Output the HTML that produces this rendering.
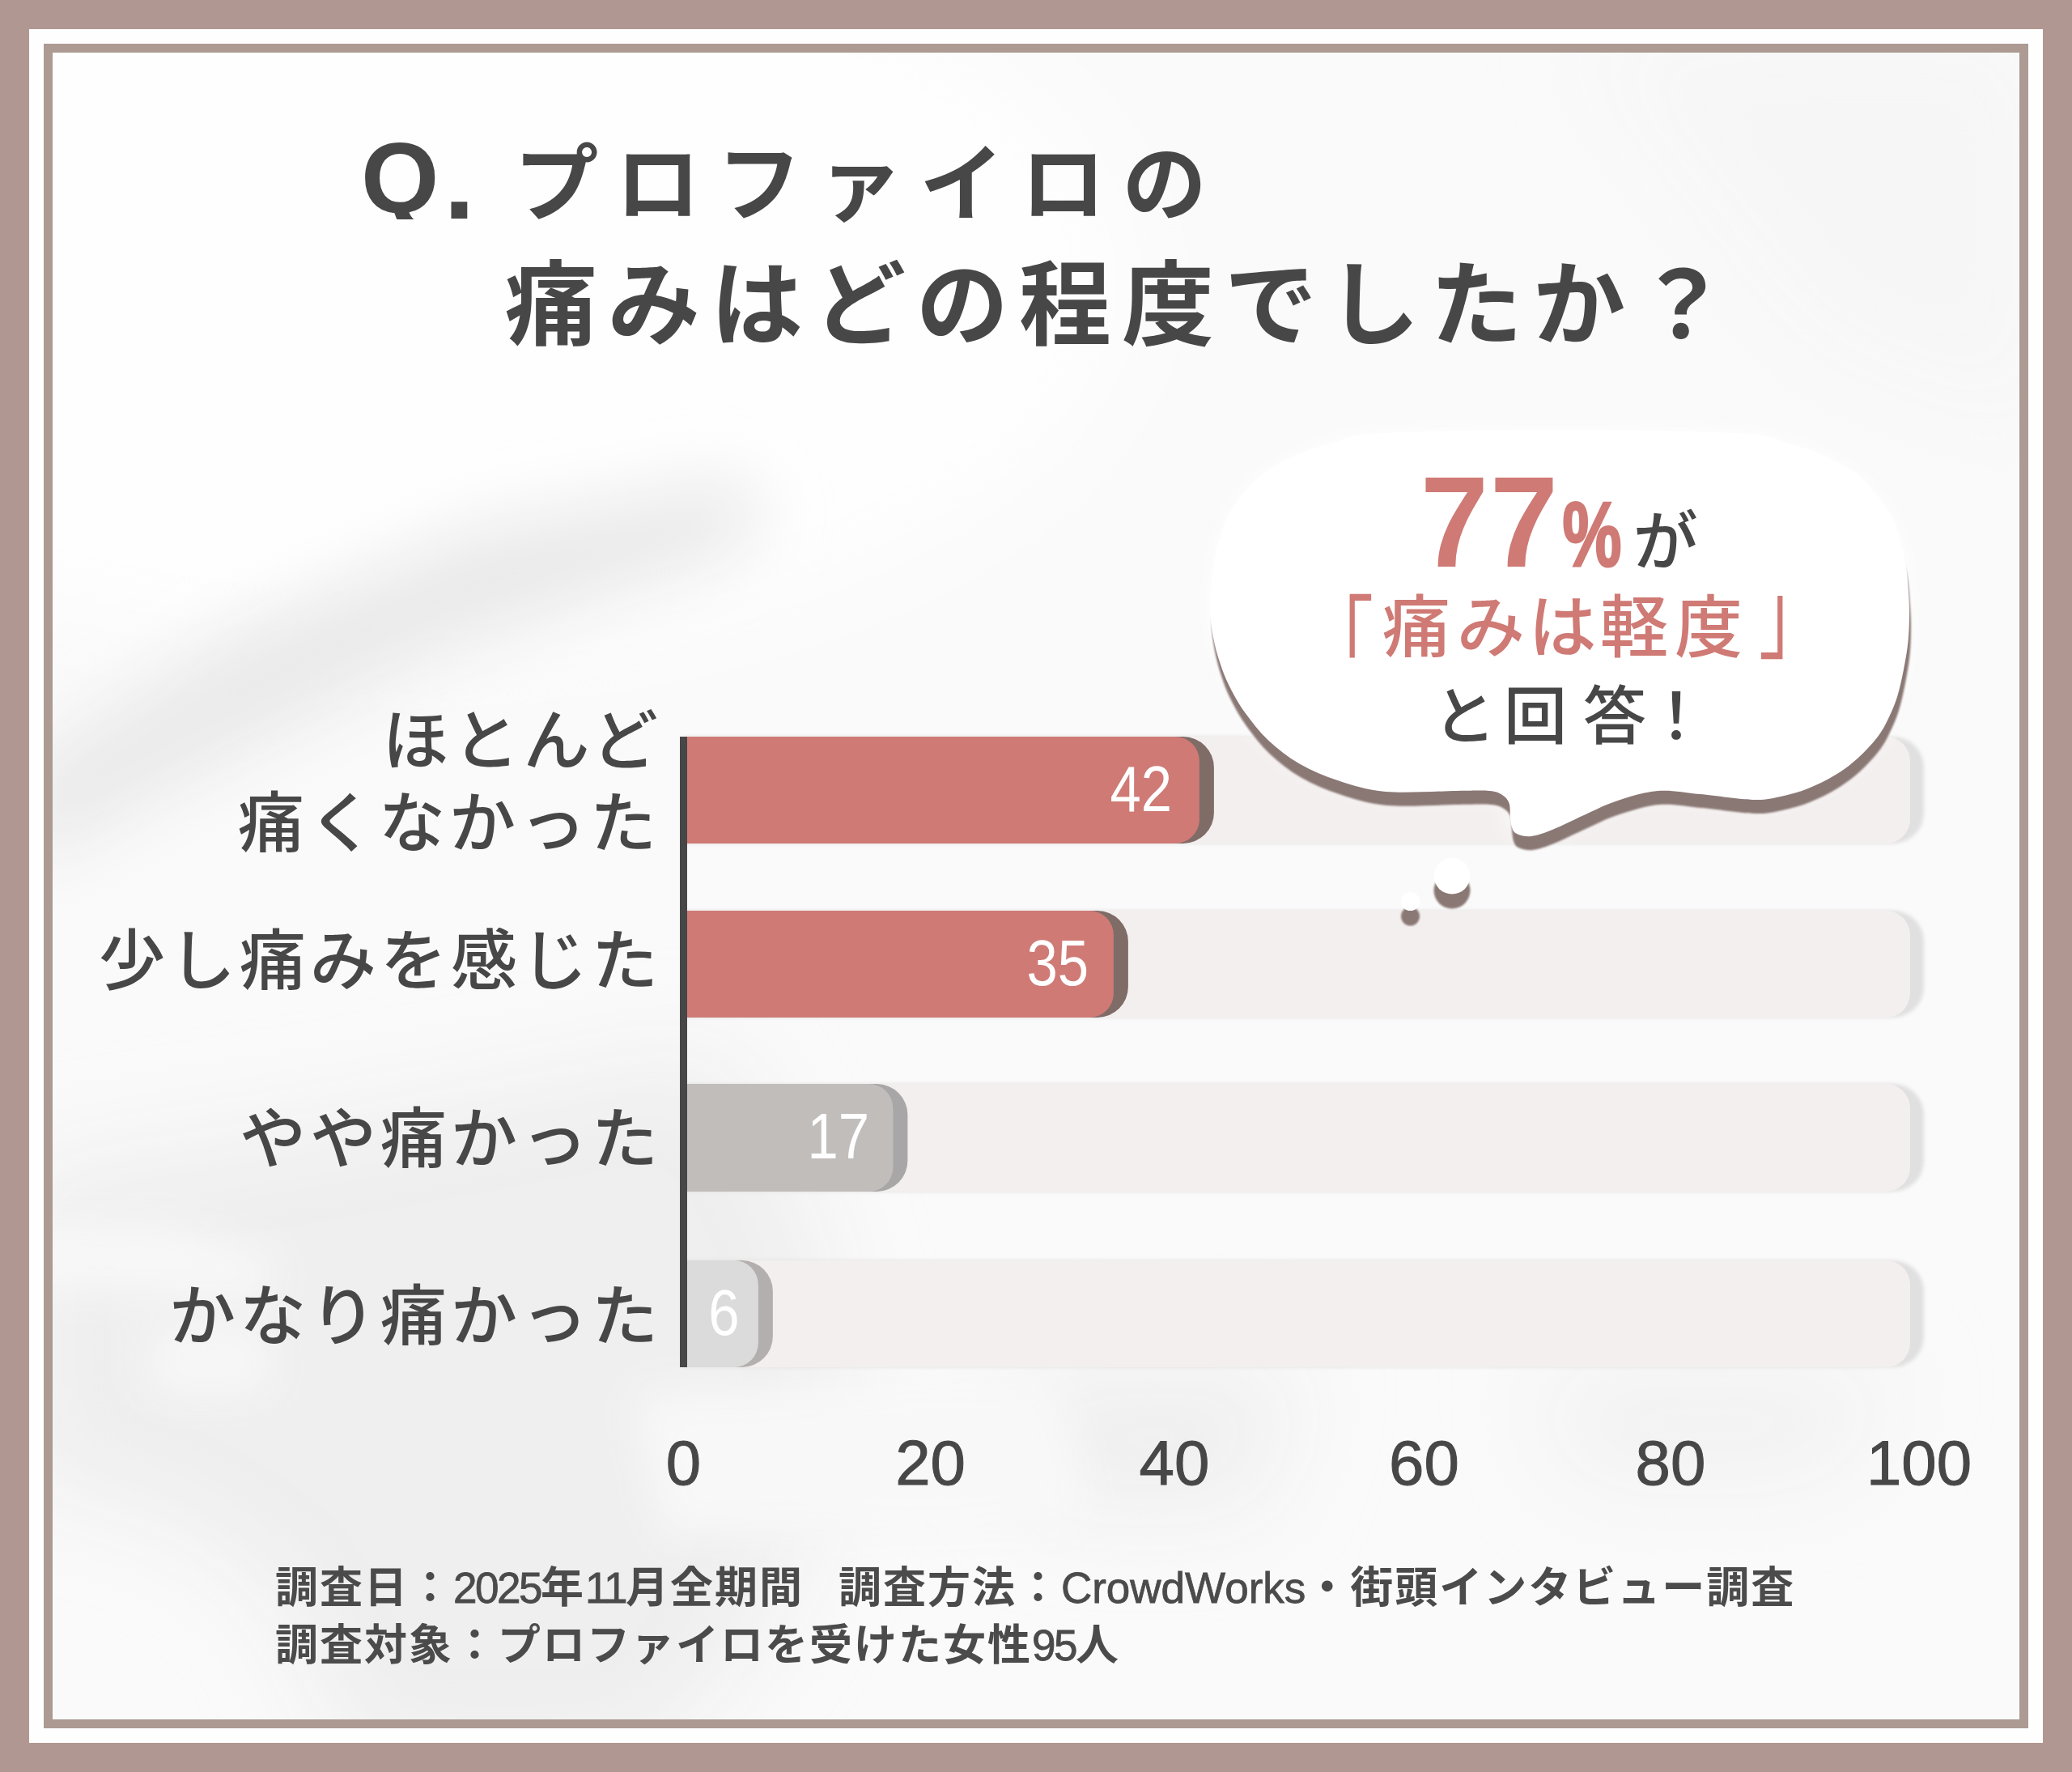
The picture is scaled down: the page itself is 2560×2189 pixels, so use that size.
<!DOCTYPE html>
<html lang="ja">
<head>
<meta charset="utf-8">
<style>
html,body{margin:0;padding:0;}
body{width:2560px;height:2189px;position:relative;overflow:hidden;background:#b19791;
  font-family:"Liberation Sans","Noto Sans CJK JP",sans-serif;}
.abs{position:absolute;}
#frame{left:36px;top:36px;width:2488px;height:2117px;background:#fefefe;}
#line{left:54px;top:54px;width:2430px;height:2059px;border:11px solid #ac9a93;}
#inner{left:65px;top:65px;width:2430px;height:2059px;background:#f8f8f8;overflow:hidden;}
.t{position:absolute;white-space:nowrap;color:#474747;font-weight:700;line-height:1;}
.jp{font-family:"Noto Sans CJK JP",sans-serif;}
.lab{font-family:"Liberation Sans","Noto Sans CJK JP",sans-serif;font-size:82px;font-weight:500;letter-spacing:5px;text-align:right;}
.val{font-size:80px;font-weight:400;color:#fff;transform:scaleX(0.86);transform-origin:right center;}
.axn{width:300px;text-align:center;font-size:78px;font-weight:400;-webkit-text-stroke:1px #474747;}
.foot{font-size:53px;color:#4b4b4b;letter-spacing:2px;}
.dg{letter-spacing:-2.5px;font-weight:400;-webkit-text-stroke:0.8px #4b4b4b;}
</style>
</head>
<body>
<div id="frame" class="abs"></div>
<div id="line" class="abs"></div>
<div id="inner" class="abs"></div>

<svg class="abs" style="left:65px;top:65px" width="2430" height="2059" viewBox="65 65 2430 2059">
  <defs>
    <filter id="bgb1" x="-50%" y="-50%" width="200%" height="200%"><feGaussianBlur stdDeviation="28"/></filter>
    <filter id="bgb2" x="-50%" y="-50%" width="200%" height="200%"><feGaussianBlur stdDeviation="60"/></filter>
    <filter id="bgb3" x="-50%" y="-50%" width="200%" height="200%"><feGaussianBlur stdDeviation="40"/></filter>
  </defs>
  <rect x="65" y="65" width="2430" height="2059" fill="#fafafa"/>
  <ellipse cx="500" cy="350" rx="900" ry="450" fill="#fefefe" filter="url(#bgb2)"/>
  <g filter="url(#bgb2)">
    <polygon points="20,1450 400,1390 700,1335 880,1300 1000,1500 1050,1750 950,2000 800,2180 440,2180 340,1960 200,1870 20,1830" fill="#ececec" opacity="0.85"/>
    <polygon points="1950,40 2520,40 2520,520 2250,420" fill="#f6f6f6"/>
    <polygon points="1250,1700 1600,1690 1550,1860 1280,1860" fill="#eeeeee"/>
    <polygon points="1900,1700 2350,1700 2250,1820 1950,1820" fill="#f0f0f0"/>
  </g>
  <polygon filter="url(#bgb3)" points="30,945 297,775 586,650 900,590 950,630 905,685 528,815 239,960 30,1075" fill="#eaeaea"/>
  <g filter="url(#bgb1)">
    <polygon points="20,1515 200,1510 345,1555 335,1605 200,1595 20,1590" fill="#f8f8f8"/>
    <polygon points="180,1640 330,1640 340,1720 190,1725" fill="#f7f7f7"/>
    <polygon points="780,1720 1300,1700 1350,1880 820,1900" fill="#f8f8f8"/>
  </g>
</svg>


<!-- title -->
<div class="t" style="left:446px;top:158px;font-size:124px;height:113px;overflow:hidden;">Q</div>
<div class="t" style="left:548px;top:152px;font-size:140px;">.</div>
<div class="t" style="left:635.5px;top:176.5px;font-size:104px;letter-spacing:21.2px;">プロファイロの</div>
<div class="t" style="left:624px;top:321px;font-size:114px;letter-spacing:13px;">痛みはどの程度でしたか？</div>

<svg class="abs" style="left:0;top:0" width="2560" height="2189" viewBox="0 0 2560 2189">
  <defs>
    <filter id="b2" x="-5%" y="-20%" width="110%" height="140%"><feGaussianBlur stdDeviation="2"/></filter>
    <filter id="glow" x="-20%" y="-20%" width="140%" height="140%"><feGaussianBlur stdDeviation="14"/></filter>
    <filter id="b1" x="-5%" y="-5%" width="110%" height="110%"><feGaussianBlur stdDeviation="1.2"/></filter>
  </defs>
  <path d="M845,910 H2339.0 A38,38 0 0 1 2377.0,948 V1004 A38,38 0 0 1 2339.0,1042 H845 Z" fill="#e0e0e0" filter="url(#b2)"/>
  <path d="M845,910 H2330.0 A30,30 0 0 1 2360.0,940 V1012 A30,30 0 0 1 2330.0,1042 H845 Z" fill="#f3efee"/>
  <path d="M845,910 H1461.88 A38,38 0 0 1 1499.88,948 V1004 A38,38 0 0 1 1461.88,1042 H845 Z" fill="#7f6c67"/>
  <path d="M845,910 H1451.88 A30,30 0 0 1 1481.88,940 V1012 A30,30 0 0 1 1451.88,1042 H845 Z" fill="#cf7a75"/>
  <path d="M845,1125 H2339.0 A38,38 0 0 1 2377.0,1163 V1219 A38,38 0 0 1 2339.0,1257 H845 Z" fill="#e0e0e0" filter="url(#b2)"/>
  <path d="M845,1125 H2330.0 A30,30 0 0 1 2360.0,1155 V1227 A30,30 0 0 1 2330.0,1257 H845 Z" fill="#f3efee"/>
  <path d="M845,1125 H1355.9 A38,38 0 0 1 1393.9,1163 V1219 A38,38 0 0 1 1355.9,1257 H845 Z" fill="#7f6c67"/>
  <path d="M845,1125 H1345.9 A30,30 0 0 1 1375.9,1155 V1227 A30,30 0 0 1 1345.9,1257 H845 Z" fill="#cf7a75"/>
  <path d="M845,1339 H2339.0 A38,38 0 0 1 2377.0,1377 V1434 A38,38 0 0 1 2339.0,1472 H845 Z" fill="#e0e0e0" filter="url(#b2)"/>
  <path d="M845,1339 H2330.0 A30,30 0 0 1 2360.0,1369 V1442 A30,30 0 0 1 2330.0,1472 H845 Z" fill="#f3efee"/>
  <path d="M845,1339 H1083.38 A38,38 0 0 1 1121.38,1377 V1434 A38,38 0 0 1 1083.38,1472 H845 Z" fill="#a8a6a6"/>
  <path d="M845,1339 H1073.38 A30,30 0 0 1 1103.38,1369 V1442 A30,30 0 0 1 1073.38,1472 H845 Z" fill="#c1bdbb"/>
  <path d="M845,1557 H2339.0 A38,38 0 0 1 2377.0,1595 V1651 A38,38 0 0 1 2339.0,1689 H845 Z" fill="#e0e0e0" filter="url(#b2)"/>
  <path d="M845,1557 H2330.0 A30,30 0 0 1 2360.0,1587 V1659 A30,30 0 0 1 2330.0,1689 H845 Z" fill="#f3efee"/>
  <path d="M845,1557 H916.84 A38,38 0 0 1 954.84,1595 V1651 A38,38 0 0 1 916.84,1689 H845 Z" fill="#b3afae"/>
  <path d="M845,1557 H906.84 A30,30 0 0 1 936.84,1587 V1659 A30,30 0 0 1 906.84,1689 H845 Z" fill="#dcdbdb"/>
  <rect x="840" y="910" width="9" height="779" fill="#474747"/>
  <!-- bubble -->
  <path d="M1927.0,531.0 C2001.3,531.0 2103.5,532.8 2150.0,535.5 C2196.5,538.2 2189.5,542.8 2206.0,547.0 C2222.5,551.2 2234.8,554.9 2249.0,561.0 C2263.2,567.1 2279.3,575.0 2291.0,583.5 C2302.7,592.0 2311.2,602.6 2319.0,612.0 C2326.8,621.4 2333.2,630.7 2338.0,640.0 C2342.8,649.3 2344.7,658.7 2347.5,668.0 C2350.3,677.3 2352.8,685.3 2354.6,696.0 C2356.3,706.7 2357.3,721.3 2358.0,732.0 C2358.7,742.7 2359.1,749.8 2359.0,760.0 C2358.9,770.2 2358.7,781.8 2357.5,793.0 C2356.3,804.2 2354.2,815.7 2352.0,827.0 C2349.8,838.3 2347.3,850.5 2344.0,861.0 C2340.7,871.5 2336.2,881.5 2332.0,890.0 C2327.8,898.5 2324.7,904.2 2318.5,912.0 C2312.3,919.8 2303.4,929.5 2295.0,937.0 C2286.6,944.5 2278.2,950.8 2268.0,957.0 C2257.8,963.2 2245.3,969.5 2234.0,974.0 C2222.7,978.5 2211.3,981.7 2200.0,984.0 C2188.7,986.3 2182.7,988.5 2166.0,988.0 C2149.3,987.5 2119.7,982.8 2100.0,981.0 C2080.3,979.2 2065.3,975.5 2048.0,977.0 C2030.7,978.5 2011.2,985.0 1996.0,990.0 C1980.8,995.0 1970.0,1001.2 1957.0,1007.0 C1944.0,1012.8 1928.8,1020.7 1918.0,1025.0 C1907.2,1029.3 1899.3,1032.2 1892.0,1033.0 C1884.7,1033.8 1878.0,1031.8 1874.0,1030.0 C1870.0,1028.2 1869.3,1025.5 1868.0,1022.0 C1866.7,1018.5 1866.6,1014.0 1866.0,1009.0 C1865.4,1004.0 1866.2,996.5 1864.5,992.0 C1862.8,987.5 1860.1,984.5 1856.0,982.0 C1851.9,979.5 1849.3,977.8 1840.0,977.0 C1830.7,976.2 1821.3,976.8 1800.0,977.0 C1778.7,977.2 1736.3,980.1 1712.0,978.0 C1687.7,975.9 1671.8,970.4 1654.0,964.6 C1636.2,958.8 1620.0,951.8 1605.5,943.4 C1591.0,935.0 1578.2,925.0 1567.0,914.4 C1555.8,903.8 1546.1,891.2 1538.0,880.0 C1529.9,868.8 1523.8,857.3 1518.6,847.0 C1513.4,836.7 1510.2,827.7 1507.0,818.0 C1503.8,808.3 1501.2,798.7 1499.3,789.0 C1497.4,779.3 1496.0,769.5 1495.4,760.0 C1494.9,750.5 1495.3,742.7 1496.0,732.0 C1496.7,721.3 1497.7,706.7 1499.4,696.0 C1501.2,685.3 1503.7,677.3 1506.5,668.0 C1509.3,658.7 1511.2,649.3 1516.0,640.0 C1520.8,630.7 1527.2,621.4 1535.0,612.0 C1542.8,602.6 1551.3,592.0 1563.0,583.5 C1574.7,575.0 1590.8,567.1 1605.0,561.0 C1619.2,554.9 1631.5,551.2 1648.0,547.0 C1664.5,542.8 1657.5,538.2 1704.0,535.5 C1750.5,532.8 1852.7,531.0 1927.0,531.0Z" fill="#ffffff" filter="url(#glow)" opacity="0.9"/>
  <path d="M1927.0,531.0 C2001.3,531.0 2103.5,532.8 2150.0,535.5 C2196.5,538.2 2189.5,542.8 2206.0,547.0 C2222.5,551.2 2234.8,554.9 2249.0,561.0 C2263.2,567.1 2279.3,575.0 2291.0,583.5 C2302.7,592.0 2311.2,602.6 2319.0,612.0 C2326.8,621.4 2333.2,630.7 2338.0,640.0 C2342.8,649.3 2344.7,658.7 2347.5,668.0 C2350.3,677.3 2352.8,685.3 2354.6,696.0 C2356.3,706.7 2357.3,721.3 2358.0,732.0 C2358.7,742.7 2359.1,749.8 2359.0,760.0 C2358.9,770.2 2358.7,781.8 2357.5,793.0 C2356.3,804.2 2354.2,815.7 2352.0,827.0 C2349.8,838.3 2347.3,850.5 2344.0,861.0 C2340.7,871.5 2336.2,881.5 2332.0,890.0 C2327.8,898.5 2324.7,904.2 2318.5,912.0 C2312.3,919.8 2303.4,929.5 2295.0,937.0 C2286.6,944.5 2278.2,950.8 2268.0,957.0 C2257.8,963.2 2245.3,969.5 2234.0,974.0 C2222.7,978.5 2211.3,981.7 2200.0,984.0 C2188.7,986.3 2182.7,988.5 2166.0,988.0 C2149.3,987.5 2119.7,982.8 2100.0,981.0 C2080.3,979.2 2065.3,975.5 2048.0,977.0 C2030.7,978.5 2011.2,985.0 1996.0,990.0 C1980.8,995.0 1970.0,1001.2 1957.0,1007.0 C1944.0,1012.8 1928.8,1020.7 1918.0,1025.0 C1907.2,1029.3 1899.3,1032.2 1892.0,1033.0 C1884.7,1033.8 1878.0,1031.8 1874.0,1030.0 C1870.0,1028.2 1869.3,1025.5 1868.0,1022.0 C1866.7,1018.5 1866.6,1014.0 1866.0,1009.0 C1865.4,1004.0 1866.2,996.5 1864.5,992.0 C1862.8,987.5 1860.1,984.5 1856.0,982.0 C1851.9,979.5 1849.3,977.8 1840.0,977.0 C1830.7,976.2 1821.3,976.8 1800.0,977.0 C1778.7,977.2 1736.3,980.1 1712.0,978.0 C1687.7,975.9 1671.8,970.4 1654.0,964.6 C1636.2,958.8 1620.0,951.8 1605.5,943.4 C1591.0,935.0 1578.2,925.0 1567.0,914.4 C1555.8,903.8 1546.1,891.2 1538.0,880.0 C1529.9,868.8 1523.8,857.3 1518.6,847.0 C1513.4,836.7 1510.2,827.7 1507.0,818.0 C1503.8,808.3 1501.2,798.7 1499.3,789.0 C1497.4,779.3 1496.0,769.5 1495.4,760.0 C1494.9,750.5 1495.3,742.7 1496.0,732.0 C1496.7,721.3 1497.7,706.7 1499.4,696.0 C1501.2,685.3 1503.7,677.3 1506.5,668.0 C1509.3,658.7 1511.2,649.3 1516.0,640.0 C1520.8,630.7 1527.2,621.4 1535.0,612.0 C1542.8,602.6 1551.3,592.0 1563.0,583.5 C1574.7,575.0 1590.8,567.1 1605.0,561.0 C1619.2,554.9 1631.5,551.2 1648.0,547.0 C1664.5,542.8 1657.5,538.2 1704.0,535.5 C1750.5,532.8 1852.7,531.0 1927.0,531.0Z" fill="#8a7874" transform="translate(2,17)" filter="url(#b1)"/>
  <path d="M1927.0,531.0 C2001.3,531.0 2103.5,532.8 2150.0,535.5 C2196.5,538.2 2189.5,542.8 2206.0,547.0 C2222.5,551.2 2234.8,554.9 2249.0,561.0 C2263.2,567.1 2279.3,575.0 2291.0,583.5 C2302.7,592.0 2311.2,602.6 2319.0,612.0 C2326.8,621.4 2333.2,630.7 2338.0,640.0 C2342.8,649.3 2344.7,658.7 2347.5,668.0 C2350.3,677.3 2352.8,685.3 2354.6,696.0 C2356.3,706.7 2357.3,721.3 2358.0,732.0 C2358.7,742.7 2359.1,749.8 2359.0,760.0 C2358.9,770.2 2358.7,781.8 2357.5,793.0 C2356.3,804.2 2354.2,815.7 2352.0,827.0 C2349.8,838.3 2347.3,850.5 2344.0,861.0 C2340.7,871.5 2336.2,881.5 2332.0,890.0 C2327.8,898.5 2324.7,904.2 2318.5,912.0 C2312.3,919.8 2303.4,929.5 2295.0,937.0 C2286.6,944.5 2278.2,950.8 2268.0,957.0 C2257.8,963.2 2245.3,969.5 2234.0,974.0 C2222.7,978.5 2211.3,981.7 2200.0,984.0 C2188.7,986.3 2182.7,988.5 2166.0,988.0 C2149.3,987.5 2119.7,982.8 2100.0,981.0 C2080.3,979.2 2065.3,975.5 2048.0,977.0 C2030.7,978.5 2011.2,985.0 1996.0,990.0 C1980.8,995.0 1970.0,1001.2 1957.0,1007.0 C1944.0,1012.8 1928.8,1020.7 1918.0,1025.0 C1907.2,1029.3 1899.3,1032.2 1892.0,1033.0 C1884.7,1033.8 1878.0,1031.8 1874.0,1030.0 C1870.0,1028.2 1869.3,1025.5 1868.0,1022.0 C1866.7,1018.5 1866.6,1014.0 1866.0,1009.0 C1865.4,1004.0 1866.2,996.5 1864.5,992.0 C1862.8,987.5 1860.1,984.5 1856.0,982.0 C1851.9,979.5 1849.3,977.8 1840.0,977.0 C1830.7,976.2 1821.3,976.8 1800.0,977.0 C1778.7,977.2 1736.3,980.1 1712.0,978.0 C1687.7,975.9 1671.8,970.4 1654.0,964.6 C1636.2,958.8 1620.0,951.8 1605.5,943.4 C1591.0,935.0 1578.2,925.0 1567.0,914.4 C1555.8,903.8 1546.1,891.2 1538.0,880.0 C1529.9,868.8 1523.8,857.3 1518.6,847.0 C1513.4,836.7 1510.2,827.7 1507.0,818.0 C1503.8,808.3 1501.2,798.7 1499.3,789.0 C1497.4,779.3 1496.0,769.5 1495.4,760.0 C1494.9,750.5 1495.3,742.7 1496.0,732.0 C1496.7,721.3 1497.7,706.7 1499.4,696.0 C1501.2,685.3 1503.7,677.3 1506.5,668.0 C1509.3,658.7 1511.2,649.3 1516.0,640.0 C1520.8,630.7 1527.2,621.4 1535.0,612.0 C1542.8,602.6 1551.3,592.0 1563.0,583.5 C1574.7,575.0 1590.8,567.1 1605.0,561.0 C1619.2,554.9 1631.5,551.2 1648.0,547.0 C1664.5,542.8 1657.5,538.2 1704.0,535.5 C1750.5,532.8 1852.7,531.0 1927.0,531.0Z" fill="#ffffff"/>
  <circle cx="1794" cy="1100" r="22.5" fill="#8a7874" filter="url(#b1)"/>
  <circle cx="1794" cy="1082" r="22.5" fill="#ffffff"/>
  <circle cx="1742.5" cy="1132" r="11.5" fill="#8a7874" filter="url(#b1)"/>
  <circle cx="1742.5" cy="1113.5" r="11.5" fill="#ffffff"/>
</svg>

<!-- bubble text -->
<div class="t" style="left:1637.6px;top:565.8px;width:318px;text-align:center;font-size:159px;color:#cf7a75;font-weight:700;transform:scaleX(0.95);">7</div>
<div class="t" style="left:1724.3px;top:565.8px;width:318px;text-align:center;font-size:159px;color:#cf7a75;font-weight:700;transform:scaleX(0.95);">7</div>
<div class="t" style="left:1852.7px;top:603.0px;width:228px;text-align:center;font-size:114px;color:#cf7a75;font-weight:700;transform:scaleX(0.72);-webkit-text-stroke:3px #cf7a75;">%</div>
<div class="t" style="left:1977.8px;top:630.0px;width:160px;text-align:center;font-size:80px;color:#474747;font-weight:500;">が</div>
<div class="t" style="left:1666.0px;top:734.0px;width:168px;text-align:center;font-size:84px;color:#cf7a75;font-weight:500;">痛</div>
<div class="t" style="left:1758.0px;top:734.0px;width:168px;text-align:center;font-size:84px;color:#cf7a75;font-weight:500;">み</div>
<div class="t" style="left:1846.6px;top:734.0px;width:168px;text-align:center;font-size:84px;color:#cf7a75;font-weight:500;">は</div>
<div class="t" style="left:1935.0px;top:734.0px;width:168px;text-align:center;font-size:84px;color:#cf7a75;font-weight:500;">軽</div>
<div class="t" style="left:2027.0px;top:734.0px;width:168px;text-align:center;font-size:84px;color:#cf7a75;font-weight:500;">度</div>
<div class="t" style="left:1571.0px;top:734.0px;width:168px;text-align:center;font-size:84px;color:#cf7a75;font-weight:400;transform:scaleY(1.44);transform-origin:50% 0;">「</div>
<div class="t" style="left:2131.0px;top:736.0px;width:168px;text-align:center;font-size:84px;color:#cf7a75;font-weight:400;transform:scaleY(1.43);transform-origin:50% 92%;">」</div>
<div class="t" style="left:1731.6px;top:847.0px;width:156px;text-align:center;font-size:78px;color:#474747;font-weight:500;">と</div>
<div class="t" style="left:1819.0px;top:847.0px;width:156px;text-align:center;font-size:78px;color:#474747;font-weight:500;">回</div>
<div class="t" style="left:1917.0px;top:847.0px;width:156px;text-align:center;font-size:78px;color:#474747;font-weight:500;">答</div>
<div class="t" style="left:1993.0px;top:847.0px;width:156px;text-align:center;font-size:78px;color:#474747;font-weight:500;">！</div>

<!-- labels -->
<div class="t lab" style="right:1742px;top:875px;">ほとんど</div>
<div class="t lab" style="right:1744px;top:977px;">痛くなかった</div>
<div class="t lab" style="right:1742px;top:1147px;">少し痛みを感じた</div>
<div class="t lab" style="right:1742px;top:1367px;">やや痛かった</div>
<div class="t lab" style="right:1742px;top:1586px;">かなり痛かった</div>

<!-- values -->
<div class="t val" style="right:1112px;top:935px;">42</div>
<div class="t val" style="right:1215px;top:1150px;">35</div>
<div class="t val" style="right:1486px;top:1364px;">17</div>
<div class="t val" style="right:1647px;top:1582px;">6</div>

<!-- axis numbers -->
<div class="t axn" style="left:694.4px;top:1768px;">0</div>
<div class="t axn" style="left:999.5999999999999px;top:1768px;">20</div>
<div class="t axn" style="left:1301px;top:1768px;">40</div>
<div class="t axn" style="left:1609.5px;top:1768px;">60</div>
<div class="t axn" style="left:1914px;top:1768px;">80</div>
<div class="t axn" style="left:2221px;top:1768px;">100</div>

<!-- footer -->
<div class="t foot" style="left:340px;top:1935px;">調査日：<span class="dg">2025</span>年<span class="dg">11</span>月全期間<span style="letter-spacing:-10px">　</span>調査方法：<span style="letter-spacing:0px;font-weight:400;-webkit-text-stroke:0.8px #4b4b4b">CrowdWorks</span>・街頭インタビュー調査</div>
<div class="t foot" style="left:340px;top:2006px;">調査対象：プロファイロを受けた女性<span class="dg">95</span>人</div>

</body>
</html>
